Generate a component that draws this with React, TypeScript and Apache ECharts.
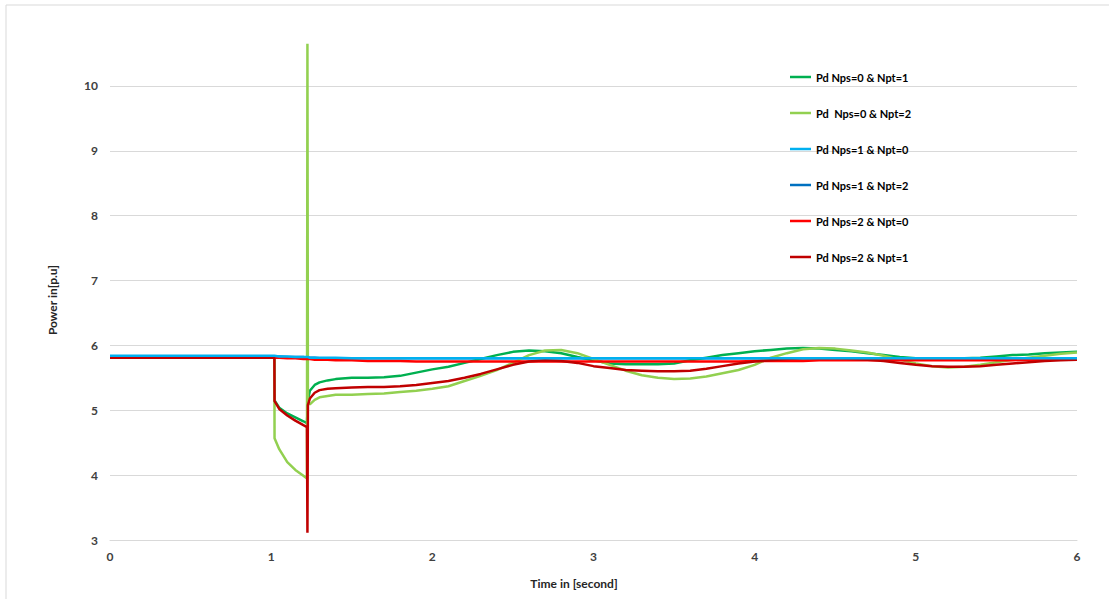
import React, { useEffect, useRef } from "react";
import * as echarts from "echarts";

// Simulation time stamps (seconds), shared by every trace
const timeS: number[] = [
  0, 1.02, 1.021, 1.05, 1.1, 1.15, 1.2, 1.222, 1.225, 1.228, 1.24, 1.27, 1.3, 1.35, 1.4, 1.5,
  1.6, 1.7, 1.8, 1.9, 2.0, 2.1, 2.2, 2.3, 2.4, 2.5, 2.6, 2.7, 2.8, 2.9, 3.0,
  3.1, 3.2, 3.3, 3.4, 3.5, 3.6, 3.7, 3.8, 3.9, 4.0, 4.1, 4.2, 4.3, 4.4, 4.5,
  4.6, 4.7, 4.8, 4.9, 5.0, 5.1, 5.2, 5.3, 5.4, 5.5, 5.6, 5.7, 5.8, 5.9, 6.0,
];

// Power traces in p.u.
const pdNps0Npt1: number[] = [
  5.83, 5.83, 5.15, 5.04, 4.95, 4.89, 4.83, 4.8, 4.98, 5.15, 5.3, 5.39, 5.43, 5.46, 5.48, 5.5,
  5.5, 5.51, 5.53, 5.58, 5.63, 5.67, 5.73, 5.79, 5.85, 5.9, 5.92, 5.91, 5.88, 5.82, 5.77,
  5.72, 5.71, 5.71, 5.71, 5.72, 5.77, 5.81, 5.85, 5.88, 5.91, 5.93, 5.95, 5.96, 5.95, 5.93,
  5.91, 5.88, 5.85, 5.82, 5.8, 5.8, 5.8, 5.8, 5.81, 5.83, 5.85, 5.86, 5.88, 5.89, 5.9,
];
const pdNps0Npt2: number[] = [
  5.83, 5.83, 4.57, 4.4, 4.2, 4.08, 3.99, 3.95, 10.65, 5.12, 5.09, 5.16, 5.2, 5.22, 5.24, 5.24,
  5.25, 5.26, 5.28, 5.3, 5.33, 5.37, 5.45, 5.53, 5.62, 5.73, 5.85, 5.92, 5.93, 5.88, 5.79,
  5.7, 5.61, 5.54, 5.5, 5.48, 5.49, 5.52, 5.57, 5.62, 5.7, 5.81, 5.88, 5.94, 5.96, 5.95,
  5.92, 5.89, 5.84, 5.78, 5.72, 5.68, 5.66, 5.67, 5.7, 5.74, 5.78, 5.81, 5.84, 5.87, 5.89,
];
const pdNps1Npt0: number[] = [
  5.84, 5.84, 5.84, 5.83, 5.83, 5.82, 5.82, 5.82, 5.82, 5.82, 5.81, 5.81, 5.81, 5.81, 5.81, 5.8,
  5.8, 5.8, 5.8, 5.8, 5.8, 5.8, 5.8, 5.8, 5.8, 5.8, 5.8, 5.8, 5.8, 5.8, 5.8,
  5.8, 5.8, 5.8, 5.8, 5.8, 5.8, 5.8, 5.8, 5.8, 5.8, 5.8, 5.8, 5.8, 5.8, 5.8,
  5.8, 5.8, 5.8, 5.8, 5.8, 5.8, 5.8, 5.8, 5.8, 5.8, 5.8, 5.8, 5.8, 5.8, 5.8,
];
const pdNps1Npt2: number[] = [
  5.83, 5.83, 5.83, 5.83, 5.82, 5.82, 5.82, 5.81, 5.81, 5.81, 5.81, 5.81, 5.8, 5.8, 5.8, 5.8,
  5.8, 5.8, 5.8, 5.8, 5.8, 5.8, 5.8, 5.8, 5.8, 5.8, 5.8, 5.8, 5.8, 5.8, 5.8,
  5.8, 5.8, 5.8, 5.8, 5.8, 5.8, 5.8, 5.8, 5.8, 5.8, 5.8, 5.8, 5.8, 5.8, 5.8,
  5.8, 5.8, 5.8, 5.8, 5.8, 5.8, 5.8, 5.8, 5.8, 5.8, 5.8, 5.8, 5.8, 5.8, 5.8,
];
const pdNps2Npt0: number[] = [
  5.81, 5.81, 5.81, 5.81, 5.8, 5.8, 5.79, 5.79, 5.79, 5.79, 5.79, 5.78, 5.78, 5.78, 5.77, 5.77,
  5.76, 5.76, 5.76, 5.75, 5.75, 5.75, 5.75, 5.75, 5.75, 5.75, 5.75, 5.75, 5.75, 5.75, 5.75,
  5.75, 5.75, 5.75, 5.75, 5.75, 5.75, 5.75, 5.75, 5.75, 5.76, 5.76, 5.76, 5.76, 5.77, 5.77,
  5.77, 5.77, 5.77, 5.77, 5.77, 5.77, 5.77, 5.77, 5.77, 5.77, 5.77, 5.78, 5.78, 5.78, 5.78,
];
const pdNps2Npt1: number[] = [
  5.81, 5.81, 5.14, 5.02, 4.92, 4.84, 4.77, 4.74, 3.11, 5.08, 5.18, 5.27, 5.31, 5.33, 5.34, 5.35,
  5.36, 5.36, 5.37, 5.39, 5.42, 5.45, 5.5, 5.56, 5.63, 5.7, 5.75, 5.77, 5.76, 5.73, 5.68,
  5.65, 5.62, 5.61, 5.6, 5.6, 5.61, 5.64, 5.68, 5.72, 5.75, 5.77, 5.79, 5.8, 5.8, 5.8,
  5.79, 5.78, 5.76, 5.73, 5.7, 5.68, 5.67, 5.67, 5.68, 5.7, 5.72, 5.74, 5.76, 5.77, 5.78,
];

const seriesNames: string[] = [
  "Pd Nps=0 & Npt=1",
  "Pd  Nps=0 & Npt=2",
  "Pd Nps=1 & Npt=0",
  "Pd Nps=1 & Npt=2",
  "Pd Nps=2 & Npt=0",
  "Pd Nps=2 & Npt=1",
];
const seriesValues: number[][] = [pdNps0Npt1, pdNps0Npt2, pdNps1Npt0, pdNps1Npt2, pdNps2Npt0, pdNps2Npt1];
const seriesColors: string[] = ["#00B050", "#92D050", "#00B0F0", "#0070C0", "#FF0000", "#C00000"];
const seriesZ: number[] = [2, 2, 3, 1, 2, 2];

const FONT = "Lato, 'Open Sans', sans-serif";

export default function App() {
  const ref = useRef<HTMLDivElement>(null);

  useEffect(() => {
    if (!ref.current) return;
    const chart = echarts.init(ref.current, undefined, { renderer: "svg" });

    const series = seriesNames.map((name, i) => ({
      name,
      type: "line",
      data: timeS.map((t, k) => [t, seriesValues[i][k]]),
      symbol: "none",
      showSymbol: false,
      z: seriesZ[i],
      lineStyle: { color: seriesColors[i], width: 2.5 },
      itemStyle: { color: seriesColors[i] },
    }));

    const gridColors = ["#d9d9d9", "#d9d9d9", "#d9d9d9", "#d9d9d9", "#d9d9d9", "#d9d9d9", "#d9d9d9", "#d9d9d9", "rgba(0,0,0,0)"];

    chart.setOption({
      animation: false,
      backgroundColor: "#ffffff",
      grid: { left: 110, right: 32, top: 21, bottom: 59, containLabel: false },
      legend: {
        orient: "vertical",
        left: 785,
        top: 65,
        icon: "rect",
        itemWidth: 21,
        itemHeight: 2.5,
        itemGap: 22,
        data: seriesNames,
        textStyle: { fontFamily: FONT, fontWeight: "bold", fontSize: 11, color: "#000000", lineHeight: 14 },
      },
      xAxis: {
        type: "value",
        min: 0,
        max: 6,
        interval: 1,
        axisLine: { show: true, lineStyle: { color: "#d9d9d9", width: 1 } },
        axisTick: { show: false },
        splitLine: { show: false },
        axisLabel: { fontFamily: FONT, fontWeight: "bold", fontSize: 12, color: "#404040", margin: 10 },
      },
      yAxis: {
        type: "value",
        min: 3,
        max: 11,
        interval: 1,
        axisLine: { show: false },
        axisTick: { show: false },
        splitLine: { show: true, lineStyle: { color: gridColors, width: 1 } },
        axisLabel: { fontFamily: FONT, fontWeight: "bold", fontSize: 12, color: "#404040", margin: 12, showMaxLabel: false },
      },
      graphic: [
        {
          type: "rect",
          shape: { x: 6, y: 5, width: 1300, height: 1000 },
          style: { fill: "none", stroke: "#d9d9d9", lineWidth: 1 },
          silent: true,
          z: -10,
        },
        {
          type: "text",
          x: 52,
          y: 300,
          rotation: Math.PI / 2,
          style: {
            text: "Power in[p.u]",
            fontFamily: FONT,
            fontWeight: "bold",
            fontSize: 12,
            fill: "#262626",
            textAlign: "center",
            textVerticalAlign: "middle",
          },
        },
        {
          type: "text",
          x: 574,
          y: 583,
          style: {
            text: "Time in [second]",
            fontFamily: FONT,
            fontWeight: "bold",
            fontSize: 12,
            fill: "#262626",
            textAlign: "center",
            textVerticalAlign: "middle",
          },
        },
      ],
      series,
    });

    return () => chart.dispose();
  }, []);

  return (
    <div
      ref={ref}
      style={{ position: "absolute", left: 0, top: 0, width: 1109, height: 599, background: "#ffffff" }}
    />
  );
}
